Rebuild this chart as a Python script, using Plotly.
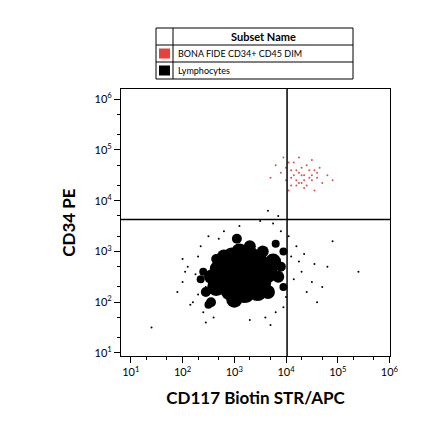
import plotly.graph_objects as go

# log10 coordinates
blob_lx = [3.2,3.0,3.4,2.8,3.6,3.1,3.3,2.9,3.5,2.65,3.2,3.0,3.45,2.55,3.75,3.1,3.3,2.8,3.55,2.9,3.2,2.45,3.85,3.1,3.35,2.95,3.65,2.7,3.45,3.15,2.35,2.55,3.9,3.95,3.05,2.65,3.8,2.4,3.95,2.5]
blob_ly = [2.6,2.5,2.7,2.4,2.6,2.8,2.9,2.7,2.4,2.3,2.2,2.05,2.2,2.5,2.8,3.0,3.1,2.9,3.0,2.2,2.4,2.2,2.5,2.6,2.5,2.9,2.2,2.65,2.8,2.35,2.45,2.0,2.7,3.0,3.25,2.85,3.15,2.6,2.3,1.95]
blob_size = [34,30,30,26,24,24,20,22,22,18,22,16,18,14,16,16,12,14,12,16,26,10,12,28,26,18,14,18,20,24,8,10,10,8,10,10,8,8,8,8]
scat_lx = [2.2,2.4,2.1,2.5,4.1,4.3,4.5,3.9,4.6,4.2,2.3,2.0,3.8,4.4,2.6,2.8,3.1,3.5,4.0,4.8,1.9,2.35,3.6,4.25,2.15,4.05,3.75,4.7,2.45,3.95,1.4,5.4,4.9,2.25,3.85,3.65,2.05,2.3,4.15,4.35,3.7,3.3,2.7,4.55,2.0,2.45]
scat_ly = [2.0,1.8,2.7,3.3,2.9,2.6,2.4,3.4,2.0,3.1,2.9,2.4,1.8,2.2,1.7,3.4,3.5,3.6,2.1,2.7,2.2,3.1,1.7,2.8,1.95,3.3,3.55,2.3,1.6,1.9,1.5,2.6,3.2,2.55,3.7,3.8,2.6,2.15,2.45,2.95,1.55,1.65,3.25,2.75,2.85,2.3]
red_lx = [4.3,4.1,4.5,4.2,4.6,4.0,4.4,4.35,4.15,4.55,3.9,4.7,4.25,4.05,4.45,4.3,3.8,4.8,4.2,4.5,4.1,4.4,3.95,4.65,4.35,4.0,4.25,4.55,3.7,4.9,4.15,4.45,4.3,4.6,4.05,4.2,4.35,4.5,4.1,4.25]
red_ly = [4.5,4.6,4.4,4.3,4.55,4.4,4.7,4.25,4.75,4.6,4.55,4.35,4.85,4.2,4.45,4.65,4.7,4.5,4.4,4.8,4.3,4.3,4.85,4.65,4.5,4.65,4.55,4.2,4.45,4.4,4.5,4.6,4.35,4.45,4.75,4.6,4.4,4.5,4.45,4.35]
x_tick_vals = [10,100,1000,10000,100000,1000000]
x_tick_text = ["10<sup>1</sup>","10<sup>2</sup>","10<sup>3</sup>","10<sup>4</sup>","10<sup>5</sup>","10<sup>6</sup>"]
gate_x = 10**4.02
gate_y = 10**3.63
legend_names = ["BONA FIDE CD34+ CD45 DIM", "Lymphocytes"]
legend_colors = ["#e8403a", "#000000"]

fig = go.Figure()
fig.add_trace(go.Scatter(x=[10**v for v in blob_lx], y=[10**v for v in blob_ly], mode="markers", opacity=1,
    marker=dict(color="black", size=blob_size, opacity=1, line=dict(width=0)), hoverinfo="skip"))
fig.add_trace(go.Scatter(x=[10**v for v in scat_lx], y=[10**v for v in scat_ly], mode="markers",
    marker=dict(color="black", size=2)))
fig.add_trace(go.Scatter(x=[10**v for v in red_lx], y=[10**v for v in red_ly], mode="markers",
    marker=dict(color="#d9534f", size=2)))

axis = dict(type="log", showgrid=False, zeroline=False, showline=True, linecolor="black", mirror=True,
            ticks="outside", ticklen=6, tickcolor="black", tickvals=x_tick_vals, ticktext=x_tick_text,
            tickfont=dict(size=11, color="black", family="Lato"), automargin=False,
            minor=dict(ticks="outside", ticklen=3, tickcolor="black", showgrid=False))
fig.update_xaxes(**axis, range=[0.81, 6.01],
    title=dict(text="<b>CD117 Biotin STR/APC</b>", font=dict(size=17, family="Lato", color="black"), standoff=14))
fig.update_yaxes(**axis, range=[0.94, 6.2],
    title=dict(text="<b>CD34 PE</b>", font=dict(size=17, family="Lato", color="black"), standoff=14))

fig.add_shape(type="line", x0=gate_x, x1=gate_x, y0=0, y1=1, xref="x", yref="paper", line=dict(color="black", width=1.5))
fig.add_shape(type="line", x0=0, x1=1, y0=gate_y, y1=gate_y, xref="paper", yref="y", line=dict(color="black", width=1.5))

W, H = 440, 441
OX, OY = 10, 7
L, R, T, B = 123 - OX, 48 + OX, 88 - OY, 86 + OY
def px(x): return (x - OX - L) / (W - L - R)
def py(y): return (H - B - (y - OY)) / (H - T - B)
fig.add_shape(type="rect", xref="paper", yref="paper", x0=px(158), x1=px(355), y0=py(78), y1=py(27), line=dict(color="black", width=1))
for yy in [44, 61]:
    fig.add_shape(type="line", xref="paper", yref="paper", x0=px(158), x1=px(355), y0=py(yy), y1=py(yy), line=dict(color="black", width=1))
fig.add_shape(type="line", xref="paper", yref="paper", x0=px(175), x1=px(175), y0=py(78), y1=py(27), line=dict(color="black", width=1))
fig.add_annotation(xref="paper", yref="paper", x=px(265), y=py(35.5), text="<b>Subset Name</b>", showarrow=False,
                   xanchor="center", yanchor="middle", font=dict(size=11, family="Lato", color="black"))
for i, (n, c) in enumerate(zip(legend_names, legend_colors)):
    yc = 52.5 + 17 * i
    fig.add_shape(type="rect", xref="paper", yref="paper", x0=px(161), x1=px(172), y0=py(yc+5), y1=py(yc-5), fillcolor=c, line=dict(width=0))
    fig.add_annotation(xref="paper", yref="paper", x=px(178), y=py(yc), text=n, xanchor="left", yanchor="middle", showarrow=False,
                       font=dict(size=9, family="Lato", color="black"))

fig.update_layout(width=W, height=H, margin=dict(l=L, r=R, t=T, b=B), showlegend=False,
                  plot_bgcolor="white", paper_bgcolor="white")
fig.write_html("out.html")
